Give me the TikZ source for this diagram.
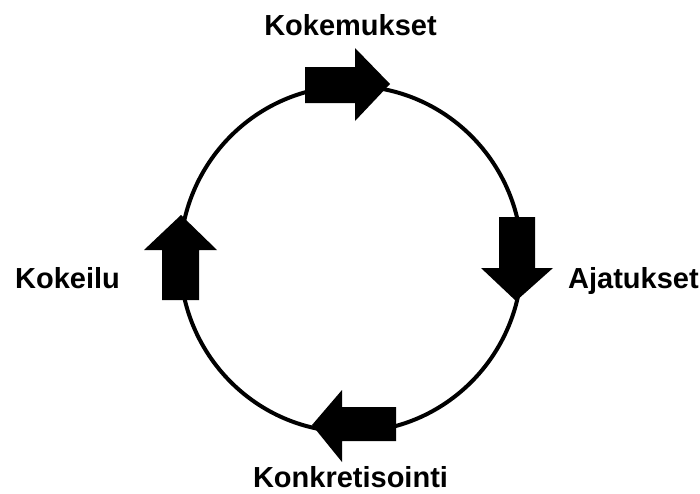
\documentclass[tikz,border=0pt]{standalone}
\usepackage{fontspec}
\setmainfont{Liberation Sans}
\begin{document}
\begin{tikzpicture}[x=1pt,y=-1pt,
  lbl/.style={font=\fontsize{29}{34}\selectfont\bfseries, inner sep=0pt},
  ring/.style={line width=4pt, draw=black},
  arrowshape/.style={fill=black}]
\useasboundingbox (0,0) rectangle (700,493);
\draw[ring] (351,259) ellipse [x radius=171, y radius=173];
% top arrow (right)
\fill[arrowshape] (305,67) -- (355,67) -- (355,48) -- (390,84) -- (355,121) -- (355,103) -- (305,103) -- cycle;
% right arrow (down)
\fill[arrowshape] (499,217) -- (535,217) -- (535,268) -- (553,268) -- (516,301) -- (481,268) -- (499,268) -- cycle;
% bottom arrow (left)
\fill[arrowshape] (396,407) -- (396,441) -- (342,441) -- (342,462) -- (312,425) -- (342,390) -- (342,407) -- cycle;
% left arrow (up)
\fill[arrowshape] (162,300) -- (199,300) -- (199,250) -- (217,250) -- (181,215) -- (144,250) -- (162,250) -- cycle;
\node[lbl, anchor=base] (kok) at (350.5,35) {Kokemukset};
\node[lbl, anchor=base west] (aja) at (568,288) {Ajatukset};
\node[lbl, anchor=base west] (kei) at (15,288) {Kokeilu};
\node[lbl, anchor=base] (kon) at (350.5,487) {Konkretisointi};
\end{tikzpicture}
\end{document}
